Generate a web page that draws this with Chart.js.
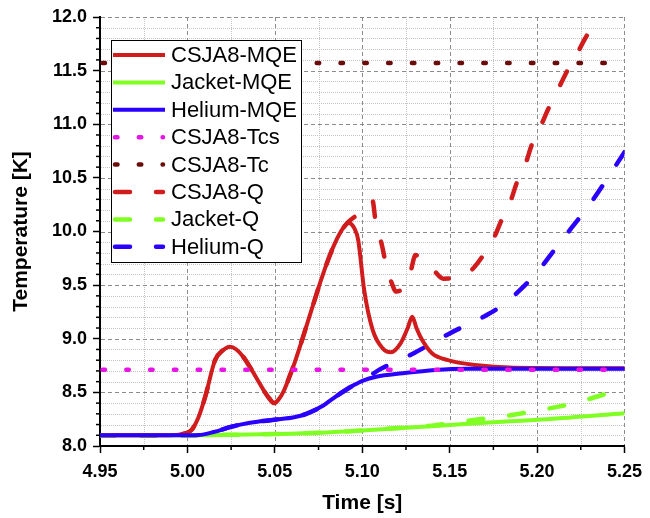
<!DOCTYPE html>
<html><head><meta charset="utf-8">
<script src="https://cdn.jsdelivr.net/npm/chart.js@4/dist/chart.umd.min.js"></script>
<style>html,body{margin:0;padding:0;background:#fff}#wrap{width:650px;height:518px}</style>
</head><body><div id="wrap"><canvas id="c" width="650" height="518"></canvas></div>
<script>
// ---- data ----
const seriesLabels = ['CSJA8-MQE','Jacket-MQE','Helium-MQE','CSJA8-Tcs','CSJA8-Tc','CSJA8-Q','Jacket-Q','Helium-Q'];

const tCsjaMqe = [4.95,4.99,4.999,5.0024,5.0064,5.0102,5.0158,5.0205,5.0243,5.028,5.032,5.036,5.040,5.044,5.047,5.0496,5.052,5.055,5.058,5.0612,5.0656,5.0712,5.0769,5.0825,5.0882,5.0921,5.0955,5.0977,5.1011,5.106,5.1117,5.1164,5.122,5.126,5.1286,5.131,5.1342,5.1399,5.149,5.1643,5.1868,5.25];
const vCsjaMqe = [8.10,8.10,8.12,8.15,8.27,8.46,8.80,8.895,8.926,8.90,8.83,8.73,8.62,8.51,8.44,8.40,8.43,8.51,8.63,8.77,8.99,9.28,9.57,9.82,10.01,10.08,10.03,9.92,9.455,9.08,8.91,8.874,8.96,9.10,9.206,9.10,8.99,8.864,8.80,8.755,8.73,8.725];

const tJacketMqe = [4.95,5.00,5.025,5.05,5.076,5.10,5.125,5.15,5.175,5.2055,5.25];
const vJacketMqe = [8.10,8.10,8.105,8.112,8.124,8.145,8.17,8.196,8.222,8.249,8.305];

const tHeliumMqe = [4.95,5.00,5.0064,5.015,5.0252,5.035,5.0496,5.061,5.068,5.078,5.083,5.089,5.0955,5.1004,5.108,5.123,5.1417,5.16,5.25];
const vHeliumMqe = [8.10,8.10,8.102,8.13,8.18,8.215,8.245,8.268,8.30,8.38,8.44,8.506,8.57,8.61,8.646,8.678,8.709,8.72,8.72];

const tTcs = [4.95,5.25];
const vTcs = [8.71,8.71];
const tTc = [4.95,5.25];
const vTc = [11.57,11.57];

const tCsjaQ = [4.95,4.99,4.999,5.0024,5.0064,5.0102,5.0158,5.0205,5.0243,5.028,5.032,5.036,5.040,5.044,5.047,5.0496,5.052,5.055,5.058,5.0612,5.0656,5.0712,5.0769,5.0825,5.0882,5.0921,5.0975,5.1015,5.1045,5.1058,5.108,5.111,5.1135,5.1164,5.1195,5.123,5.1276,5.1305,5.1335,5.1408,5.1464,5.153,5.1615,5.170,5.1756,5.180,5.185,5.1885,5.1936,5.197,5.202,5.2066,5.211,5.217,5.222,5.2275,5.233,5.238];
const vCsjaQ = [8.10,8.10,8.12,8.15,8.27,8.46,8.80,8.895,8.926,8.90,8.83,8.73,8.62,8.51,8.44,8.40,8.43,8.51,8.63,8.77,8.99,9.28,9.57,9.82,10.01,10.09,10.16,10.22,10.27,10.29,10.045,9.89,9.70,9.54,9.44,9.47,9.625,9.78,9.75,9.64,9.56,9.57,9.625,9.797,9.95,10.12,10.29,10.46,10.64,10.81,10.98,11.15,11.29,11.49,11.63,11.80,11.95,12.1];

const tJacketQ = [4.95,5.00,5.025,5.05,5.076,5.10,5.125,5.14,5.15,5.16,5.17,5.18,5.19,5.20,5.21,5.22,5.23,5.24,5.25];
const vJacketQ = [8.10,8.10,8.105,8.112,8.124,8.145,8.172,8.19,8.212,8.235,8.255,8.275,8.30,8.33,8.36,8.395,8.44,8.49,8.54];

const tHeliumQ = [4.95,5.00,5.0064,5.015,5.0252,5.035,5.0496,5.061,5.068,5.078,5.083,5.089,5.0955,5.1004,5.1096,5.12,5.13,5.14,5.15,5.16,5.17,5.18,5.19,5.20,5.21,5.22,5.23,5.24,5.25];
const vHeliumQ = [8.10,8.10,8.102,8.13,8.18,8.215,8.245,8.268,8.30,8.38,8.44,8.506,8.57,8.61,8.71,8.79,8.87,8.96,9.05,9.13,9.21,9.31,9.45,9.62,9.83,10.04,10.25,10.49,10.74];

const xTickValues = [4.95,5.00,5.05,5.10,5.15,5.20,5.25];
const xTickLabels = ['4.95','5.00','5.05','5.10','5.15','5.20','5.25'];
const xMinorTicks = [4.975,5.025,5.075,5.125,5.175,5.225];
const yTickValues = [8.0,8.5,9.0,9.5,10.0,10.5,11.0,11.5,12.0];
const yTickLabels = ['8.0','8.5','9.0','9.5','10.0','10.5','11.0','11.5','12.0'];
const yMinorTicks = [8.1,8.2,8.3,8.4,8.6,8.7,8.8,8.9,9.1,9.2,9.3,9.4,9.6,9.7,9.8,9.9,10.1,10.2,10.3,10.4,10.6,10.7,10.8,10.9,11.1,11.2,11.3,11.4,11.6,11.7,11.8,11.9];
const xTitle = 'Time [s]';
const yTitle = 'Temperature [K]';

// ---- styles ----
const RED = '#d01c1c', GREEN = '#80ff22', BLUE = '#2a00ff', MAGENTA = '#e614e6', WINE = '#6b0c0c';
const FONT = "'Liberation Sans', Arial, sans-serif";
const pts = (t, v) => t.map((x, i) => ({x: x, y: v[i]}));
const DASH = [15, 26], DOT = [2.5, 21.3];

const datasets = [
  {label: seriesLabels[0], data: pts(tCsjaMqe, vCsjaMqe), borderColor: RED, borderWidth: 4, order: 2},
  {label: seriesLabels[1], data: pts(tJacketMqe, vJacketMqe), borderColor: GREEN, borderWidth: 4, order: 4},
  {label: seriesLabels[2], data: pts(tHeliumMqe, vHeliumMqe), borderColor: BLUE, borderWidth: 4, order: 1},
  {label: seriesLabels[3], data: pts(tTcs, vTcs), borderColor: MAGENTA, borderWidth: 4.5, borderDash: DOT, borderDashOffset: -2.5, order: 0},
  {label: seriesLabels[4], data: pts(tTc, vTc), borderColor: WINE, borderWidth: 4.5, borderDash: DOT, borderDashOffset: -2.5, order: 0},
  {label: seriesLabels[5], data: pts(tCsjaQ, vCsjaQ), borderColor: RED, borderWidth: 4.5, borderDash: DASH, order: 6},
  {label: seriesLabels[6], data: pts(tJacketQ, vJacketQ), borderColor: GREEN, borderWidth: 4.5, borderDash: DASH, order: 3},
  {label: seriesLabels[7], data: pts(tHeliumQ, vHeliumQ), borderColor: BLUE, borderWidth: 4.5, borderDash: DASH, order: 5}
];
datasets.forEach(d => { d.pointRadius = 0; d.fill = false; d.cubicInterpolationMode = 'monotone';
  d.borderCapStyle = 'round'; d.borderJoinStyle = 'round'; });

function line(ctx, x1, y1, x2, y2) { ctx.beginPath(); ctx.moveTo(x1, y1); ctx.lineTo(x2, y2); ctx.stroke(); }

const gridPlugin = {
  id: 'gridPlugin',
  beforeDatasetsDraw(chart) {
    const {ctx, chartArea: a, scales: {x, y}} = chart;
    ctx.save();
    ctx.lineWidth = 1;
    ctx.strokeStyle = '#c4c4c4';
    ctx.setLineDash([1, 1]);
    yMinorTicks.forEach(v => { const p = Math.round(y.getPixelForValue(v)) + 0.5; line(ctx, a.left + 1, p, a.right, p); });
    xMinorTicks.forEach(v => { const p = Math.round(x.getPixelForValue(v)) + 0.5; line(ctx, p, a.top, p, a.bottom - 1); });
    ctx.strokeStyle = '#8c8c8c';
    ctx.setLineDash([4, 3]);
    yTickValues.slice(1).forEach(v => { const p = Math.round(y.getPixelForValue(v)) + 0.5; line(ctx, a.left + 1, p, a.right, p); });
    xTickValues.slice(1).forEach(v => { const p = Math.round(x.getPixelForValue(v)) + 0.5; line(ctx, p, a.top, p, a.bottom - 1); });
    ctx.restore();
  },
  afterDraw(chart) {
    const {ctx, chartArea: a, scales: {x, y}} = chart;
    ctx.save();
    ctx.strokeStyle = '#000';
    ctx.lineWidth = 1.5;
    yMinorTicks.forEach(v => { const p = y.getPixelForValue(v); line(ctx, a.left, p, a.left - 4, p); });
    xMinorTicks.forEach(v => { const p = x.getPixelForValue(v); line(ctx, p, a.bottom, p, a.bottom + 4); });
    ctx.restore();
  }
};

const legendPlugin = {
  id: 'boxLegend',
  afterDatasetsDraw(chart) {
    const ctx = chart.ctx;
    const bx = 111.5, by = 40.5, bw = 190, bh = 222, rowH = 27.4, y0 = 55;
    ctx.save();
    ctx.fillStyle = '#fff';
    ctx.fillRect(bx, by, bw, bh);
    ctx.strokeStyle = '#000'; ctx.lineWidth = 1; ctx.setLineDash([]);
    ctx.strokeRect(bx, by, bw, bh);
    chart.data.datasets.forEach((d, i) => {
      const yy = y0 + i * rowH;
      ctx.save();
      ctx.strokeStyle = d.borderColor;
      ctx.lineWidth = d.borderWidth;
      ctx.lineCap = d.borderDash ? 'round' : 'butt';
      ctx.setLineDash(d.borderDash || []);
      ctx.lineDashOffset = 0;
      if (d.borderDash) line(ctx, 115, yy, 163, yy); else line(ctx, 113, yy, 165, yy);
      ctx.restore();
      ctx.fillStyle = '#000';
      ctx.font = '22px ' + FONT;
      ctx.textBaseline = 'middle';
      ctx.textAlign = 'left';
      ctx.fillText(d.label, 171, yy + 1);
    });
    ctx.restore();
  }
};

new Chart(document.getElementById('c'), {
  type: 'line',
  data: {datasets: datasets},
  options: {
    responsive: false, animation: false, devicePixelRatio: 1,
    layout: {padding: {top: 17, right: 18, left: 0, bottom: 0}},
    plugins: {legend: {display: false}, tooltip: {enabled: false}},
    scales: {
      x: {
        type: 'linear', min: 4.95, max: 5.25,
        afterBuildTicks: s => { s.ticks = xTickValues.map(v => ({value: v})); },
        afterFit: s => { s.height = 72; },
        ticks: {callback: (v, i) => xTickLabels[i], color: '#000', padding: 8, maxRotation: 0, autoSkip: false,
          font: {family: FONT, size: 18, weight: 'bold'}},
        grid: {drawOnChartArea: false, drawTicks: true, tickLength: 7, tickColor: '#000', tickWidth: 1.5},
        border: {display: true, color: '#000', width: 2},
        title: {display: true, text: xTitle, color: '#000', font: {family: FONT, size: 21, weight: 'bold'}, padding: {top: 0, bottom: 2}}
      },
      y: {
        type: 'linear', min: 8, max: 12,
        afterBuildTicks: s => { s.ticks = yTickValues.map(v => ({value: v})); },
        afterFit: s => { s.width = 100; },
        ticks: {callback: (v, i) => yTickLabels[i], color: '#000', padding: 6, autoSkip: false,
          font: {family: FONT, size: 18, weight: 'bold'}},
        grid: {drawOnChartArea: false, drawTicks: true, tickLength: 7, tickColor: '#000', tickWidth: 1.5},
        border: {display: true, color: '#000', width: 2},
        title: {display: true, text: yTitle, color: '#000', font: {family: FONT, size: 21, weight: 'bold'}, padding: {top: 9, bottom: 0}}
      }
    }
  },
  plugins: [gridPlugin, legendPlugin]
});
</script></body></html>
